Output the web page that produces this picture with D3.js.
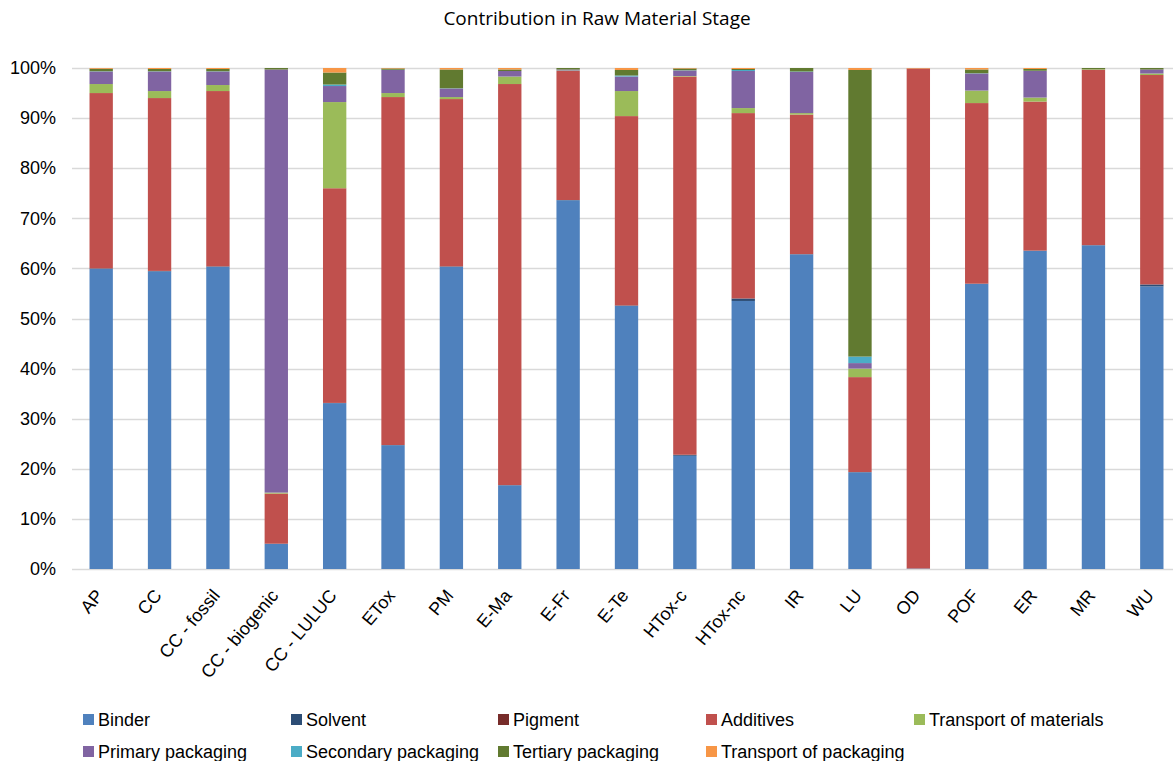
<!DOCTYPE html>
<html>
<head>
<meta charset="utf-8">
<script src="https://cdn.jsdelivr.net/npm/d3@7"></script>
<style>
  html, body { margin: 0; padding: 0; background: #fff; }
  svg { display: block; }
</style>
</head>
<body>
<svg id="chart" width="1173" height="761"></svg>
<script>
// Impact categories along the x axis
const categories = ["AP", "CC", "CC - fossil", "CC - biogenic", "CC - LULUC", "ETox", "PM",
  "E-Ma", "E-Fr", "E-Te", "HTox-c", "HTox-nc", "IR", "LU", "OD", "POF", "ER", "MR", "WU"];

// Share of each contributor per category (%), in stacking order
const binder       = [59.9, 59.4, 60.3, 5.0, 33.1, 24.7, 60.3, 16.7, 73.6, 52.5, 22.6, 53.5, 62.8, 19.3, 0.1, 56.9, 63.5, 64.6, 56.4];
const solvent      = [0.1, 0.1, 0.1, 0.05, 0.05, 0.05, 0.1, 0.05, 0.05, 0.1, 0.2, 0.5, 0.05, 0.05, 0, 0.05, 0.05, 0.05, 0.4];
const pigment      = [0, 0, 0, 0, 0, 0, 0, 0, 0, 0, 0, 0, 0, 0, 0, 0, 0, 0, 0];
const additives    = [35.0, 34.5, 35.0, 10.0, 42.85, 69.45, 33.4, 80.05, 25.75, 37.8, 75.5, 37.0, 27.85, 18.95, 99.8, 36.05, 29.75, 35.0, 41.8];
const transportMat = [1.8, 1.4, 1.2, 0.2, 17.2, 0.8, 0.4, 1.5, 0.1, 5.0, 0.1, 1.0, 0.3, 1.7, 0, 2.5, 0.8, 0.1, 0.3];
const primaryPack  = [2.5, 3.9, 2.7, 84.45, 3.2, 4.6, 1.7, 1.1, 0.2, 2.9, 1.1, 7.4, 8.2, 1.1, 0, 3.4, 5.3, 0, 0.8];
const secondaryPack= [0.05, 0.05, 0.05, 0, 0.3, 0.05, 0.05, 0, 0, 0.2, 0.05, 0.2, 0.1, 1.3, 0, 0.05, 0.05, 0, 0];
const tertiaryPack = [0.5, 0.45, 0.45, 0.3, 2.4, 0.25, 3.75, 0.3, 0.3, 1.1, 0.35, 0.2, 0.7, 57.2, 0, 0.75, 0.35, 0.25, 0.3];
const transportPack= [0.15, 0.2, 0.2, 0, 0.9, 0.1, 0.3, 0.3, 0, 0.4, 0.1, 0.2, 0, 0.4, 0.1, 0.3, 0.2, 0, 0];

const seriesNames = ["Binder", "Solvent", "Pigment", "Additives", "Transport of materials",
  "Primary packaging", "Secondary packaging", "Tertiary packaging", "Transport of packaging"];
const seriesValues = [binder, solvent, pigment, additives, transportMat,
  primaryPack, secondaryPack, tertiaryPack, transportPack];
const seriesColors = ["#4F81BD", "#2C4D75", "#772C2A", "#C0504D", "#9BBB59",
  "#8064A2", "#4BACC6", "#617A30", "#F79646"];

const yTicks = [0, 10, 20, 30, 40, 50, 60, 70, 80, 90, 100];
const yTickLabels = ["0%", "10%", "20%", "30%", "40%", "50%", "60%", "70%", "80%", "90%", "100%"];

const title = "Contribution in Raw Material Stage";

// Build rows for d3.stack
const rows = categories.map((c, i) => {
  const r = { category: c };
  seriesNames.forEach((s, k) => { r[s] = seriesValues[k][i]; });
  return r;
});

const svg = d3.select("#chart");
const labelFont = "'Liberation Sans', Arial, sans-serif";

const x = d3.scaleBand().domain(categories).range([72, 1181]).paddingInner(0.6).paddingOuter(0.3);
const y = d3.scaleLinear().domain([0, 100]).range([569, 68]);
const color = d3.scaleOrdinal().domain(seriesNames).range(seriesColors);

// Title
svg.append("text")
  .attr("x", 597).attr("y", 18)
  .attr("text-anchor", "middle").attr("dominant-baseline", "central")
  .style("font-family", "'Open Sans', sans-serif").style("font-size", "19px")
  .style("fill", "#000")
  .text(title);

// Horizontal gridlines
svg.append("g").selectAll("line").data(yTicks).join("line")
  .attr("x1", 72).attr("x2", 1181)
  .attr("y1", d => Math.round(y(d)) + 0.5).attr("y2", d => Math.round(y(d)) + 0.5)
  .attr("stroke", "#D9D9D9").attr("stroke-width", 1.5);

// Y axis labels
const yAxis = d3.axisLeft(y).tickValues(yTicks).tickFormat((d, i) => yTickLabels[i]).tickSize(0).tickPadding(0);
const yG = svg.append("g").attr("transform", "translate(56,0)").call(yAxis);
yG.select(".domain").remove();
yG.selectAll("text").style("font-family", labelFont).style("font-size", "18px").style("fill", "#000");

// Stacked bars
const stack = d3.stack().keys(seriesNames);
const stacked = stack(rows);
svg.append("g").selectAll("g").data(stacked).join("g")
  .attr("fill", d => color(d.key))
  .selectAll("rect").data(d => d).join("rect")
  .attr("x", d => x(d.data.category))
  .attr("width", x.bandwidth())
  .attr("y", d => y(d[1]))
  .attr("height", d => Math.max(0, y(d[0]) - y(d[1])));

// X axis category labels, rotated
const xAxis = d3.axisBottom(x).tickSize(0).tickPadding(0);
const xG = svg.append("g").attr("transform", "translate(0,596)").call(xAxis);
xG.select(".domain").remove();
xG.selectAll("text")
  .attr("y", 0).attr("x", 0).attr("dy", "0")
  .attr("transform", "translate(3,0) rotate(-50)")
  .style("text-anchor", "end")
  .style("font-family", labelFont).style("font-size", "18px").style("fill", "#000");

// Legend in two rows of five columns
const legendCols = [83, 291, 498, 706, 914];
const legendRows = [720, 752];
const legend = svg.append("g").selectAll("g").data(seriesNames).join("g")
  .attr("transform", (d, i) => `translate(${legendCols[i % 5]},${legendRows[Math.floor(i / 5)]})`);
legend.append("rect")
  .attr("x", 0).attr("y", -6).attr("width", 11).attr("height", 11)
  .attr("fill", d => color(d));
legend.append("text")
  .attr("x", 15).attr("y", 0).attr("dominant-baseline", "central")
  .style("font-family", labelFont).style("font-size", "18px").style("fill", "#000")
  .text(d => d);
</script>
</body>
</html>
